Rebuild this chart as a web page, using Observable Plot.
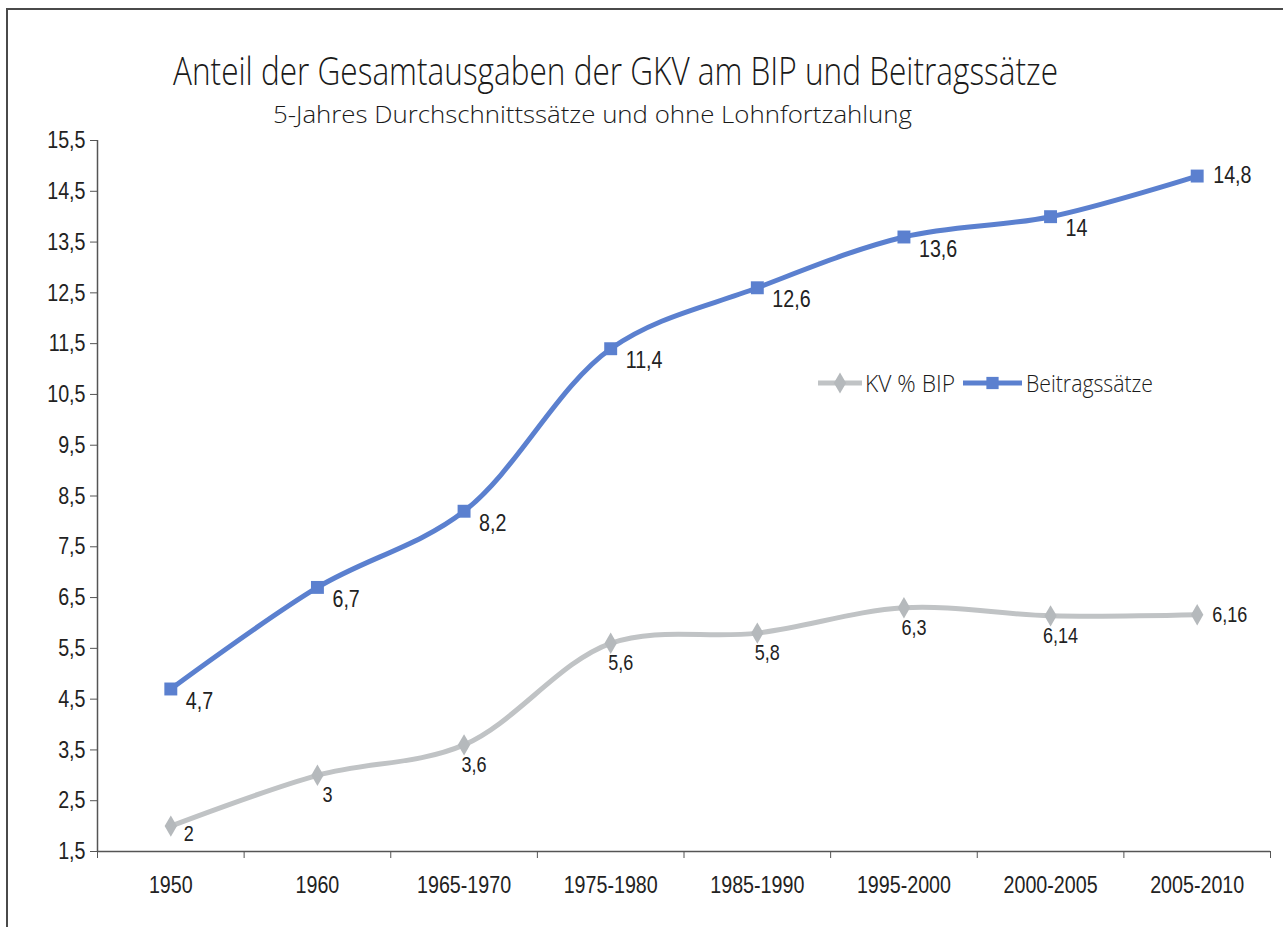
<!DOCTYPE html>
<html><head><meta charset="utf-8">
<script src="https://cdn.jsdelivr.net/npm/d3@7"></script>
<script src="https://cdn.jsdelivr.net/npm/@observablehq/plot@0.6"></script>
<style>
body{margin:0;background:#fff;}
#wrap{position:relative;width:1283px;height:927px;overflow:hidden;background:#fff;}
#border{position:absolute;left:6px;top:8px;width:1400px;height:1000px;border-left:2px solid #4a4a4a;border-top:2px solid #4a4a4a;}
#head{position:absolute;left:0;top:0;}
#chart{position:absolute;left:0;top:110px;}
#legend{position:absolute;left:0;top:0;}
</style></head><body>
<div id="wrap">
<div id="border"></div>
<svg id="head" width="1283" height="130"></svg>
<div id="chart"></div>
<svg id="legend" width="1283" height="927"></svg>
</div>
<script>
const titleText = "Anteil der Gesamtausgaben der GKV am BIP und Beitragssätze";
const subtitleText = "5-Jahres Durchschnittssätze und ohne Lohnfortzahlung";
const categories = ["1950","1960","1965-1970","1975-1980","1985-1990","1995-2000","2000-2005","2005-2010"];
const kvBip = [2, 3, 3.6, 5.6, 5.8, 6.3, 6.14, 6.16];
const beitrag = [4.7, 6.7, 8.2, 11.4, 12.6, 13.6, 14, 14.8];
const kvLabels = ["2","3","3,6","5,6","5,8","6,3","6,14","6,16"];
const beitragLabels = ["4,7","6,7","8,2","11,4","12,6","13,6","14","14,8"];
const yTicks = [1.5, 2.5, 3.5, 4.5, 5.5, 6.5, 7.5, 8.5, 9.5, 10.5, 11.5, 12.5, 13.5, 14.5, 15.5];
const seriesNames = ["KV % BIP", "Beitragssätze"];

const blue = "#5b80cf", gray = "#c0c3c5";
const sans = "'Liberation Sans', Arial, sans-serif";
const humanist = "'Open Sans', 'Noto Sans', sans-serif";

// Title
const head = d3.select("#head");
head.append("text").attr("x", 615.5).attr("y", 85).attr("text-anchor", "middle")
  .attr("font-family", humanist).attr("font-weight", 300).attr("font-size", 38).attr("fill", "#1a1a1a")
  .attr("textLength", 885).attr("lengthAdjust", "spacingAndGlyphs").text(titleText);
head.append("text").attr("x", 592.5).attr("y", 123).attr("text-anchor", "middle")
  .attr("font-family", humanist).attr("font-weight", 300).attr("font-size", 24).attr("fill", "#1a1a1a")
  .attr("textLength", 639).attr("lengthAdjust", "spacingAndGlyphs").text(subtitleText);

const rows = (vals, labs, s) => categories.map((c, i) => ({i, cat: c, v: vals[i], lab: labs[i], s}));
const kv = rows(kvBip, kvLabels, seriesNames[0]);
const bt = rows(beitrag, beitragLabels, seriesNames[1]);
const n = categories.length;

const chart = Plot.plot({
  width: 1283, height: 801,
  marginLeft: 97, marginRight: 13, marginTop: 30, marginBottom: 60,
  style: {fontFamily: sans, fontSize: "24px", color: "#222", background: "transparent"},
  x: {type: "linear", domain: [-0.5, n - 0.5]},
  y: {domain: [1.5, 15.5]},
  marks: [
    Plot.axisY({ticks: yTicks, tickSize: 7, tickPadding: 5, fontSize: 24, label: null,
      stroke: "#555", tickFormat: d => d.toFixed(1).replace(".", ",")}),
    Plot.axisX({ticks: d3.range(-0.5, n, 1), tickSize: 7, tickFormat: () => "", label: null, stroke: "#555"}),
    Plot.axisX({ticks: d3.range(0, n), tickSize: 0, tickPadding: 24, fontSize: 24, label: null,
      tickFormat: i => categories[i]}),
    Plot.ruleX([-0.5], {stroke: "#555", strokeWidth: 1.5}),
    Plot.ruleY([1.5], {stroke: "#555", strokeWidth: 1.5}),
    Plot.line(kv, {x: "i", y: "v", stroke: gray, strokeWidth: 5, curve: "catmull-rom"}),
    Plot.line(bt, {x: "i", y: "v", stroke: blue, strokeWidth: 5, curve: "catmull-rom"}),
    Plot.dot(kv, {x: "i", y: "v", symbol: "diamond", r: 6.5, fill: "#b5b9bc", stroke: null}),
    Plot.dot(bt, {x: "i", y: "v", symbol: "square", r: 7.3, fill: blue, stroke: null}),
    // Beitragssätze labels: below right, last one to the right
    Plot.text(bt.slice(0, n - 1), {x: "i", y: "v", text: "lab", textAnchor: "start", dx: 15, dy: 12, fontSize: 24, fill: "#222"}),
    Plot.text(bt.slice(n - 1), {x: "i", y: "v", text: "lab", textAnchor: "start", dx: 16, dy: -1, fontSize: 24, fill: "#222"}),
    // KV labels
    Plot.text(kv.slice(0, 1), {x: "i", y: "v", text: "lab", textAnchor: "middle", dx: 18, dy: 8, fontSize: 22, fill: "#222"}),
    Plot.text(kv.slice(1, n - 1), {x: "i", y: "v", text: "lab", textAnchor: "middle", dx: 10, dy: 20, fontSize: 22, fill: "#222"}),
    Plot.text(kv.slice(n - 1), {x: "i", y: "v", text: "lab", textAnchor: "start", dx: 15, dy: 0, fontSize: 22, fill: "#222"})
  ]
});
// condensed look of the original chart's number font
d3.select(chart).selectAll("text").each(function () {
  const t = this.getAttribute("transform") || "";
  this.setAttribute("transform", (t + " scale(0.82,1)").trim());
});
document.getElementById("chart").appendChild(chart);

// Legend
const leg = d3.select("#legend");
const items = [
  {name: seriesNames[0], color: gray, mark: "#b5b9bc", sym: d3.symbolDiamond, size: 130, x0: 818, x1: 862, tx: 865, tw: 90},
  {name: seriesNames[1], color: blue, mark: blue, sym: d3.symbolSquare, size: 150, x0: 963, x1: 1022, tx: 1026, tw: 127}
];
const ly = 383;
for (const it of items) {
  leg.append("line").attr("x1", it.x0).attr("x2", it.x1).attr("y1", ly).attr("y2", ly)
    .attr("stroke", it.color).attr("stroke-width", 5);
  leg.append("path").attr("d", d3.symbol(it.sym, it.size)())
    .attr("transform", `translate(${(it.x0 + it.x1) / 2},${ly})`).attr("fill", it.mark);
  leg.append("text").attr("x", it.tx).attr("y", ly + 9).attr("font-family", humanist).attr("font-weight", 300)
    .attr("font-size", 23).attr("fill", "#1a1a1a").attr("textLength", it.tw)
    .attr("lengthAdjust", "spacingAndGlyphs").text(it.name);
}
</script>
</body></html>
